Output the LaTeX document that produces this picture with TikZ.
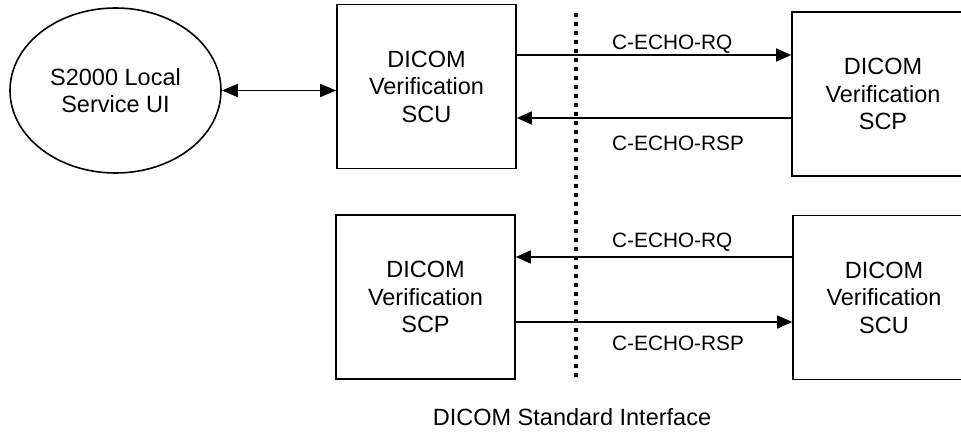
\documentclass[tikz,border=0pt]{standalone}
\usepackage{fontspec}
\setmainfont{Liberation Sans}
\usetikzlibrary{arrows.meta,shapes.geometric}
\tikzset{
  box/.style={draw,line width=1.6pt,minimum width=179pt,minimum height=164pt,inner sep=0pt,align=center,font=\fontsize{23.5}{27.5}\selectfont},
  oval/.style={draw,ellipse,line width=1.6pt,minimum width=211pt,minimum height=165pt,inner sep=0pt,align=center,font=\fontsize{23.5}{27}\selectfont},
  msg/.style={line width=1.6pt,-{Triangle[length=15pt,width=13pt]}},
  lbl/.style={anchor=base west,inner sep=0pt,font=\fontsize{20.8}{25}\selectfont},
}
\begin{document}
\begin{tikzpicture}[x=1pt,y=-1pt]
                \path[use as bounding box] (0,0) rectangle (961,431);
                \clip (0,0) rectangle (961,431);
                \node[oval] (ui) at (115.5, 90.5) {S2000 Local\\Service UI};
                \node[box] (scu) at (426.5, 86.5) {DICOM\\Verification\\SCU};
                \node[box,minimum width=182pt] (scp) at (883, 94) {DICOM\\Verification\\SCP};
                \node[box] (scp2) at (425.5, 297) {DICOM\\Verification\\SCP};
                \node[box,minimum width=182pt] (scu2) at (884, 297.5) {DICOM\\Verification\\SCU};
                \coordinate (l1) at (0, 55);
                \coordinate (l2) at (0, 118);
                \coordinate (l3) at (0, 257);
                \coordinate (l4) at (0, 322);
                \coordinate (d1) at (576, 13);
                \coordinate (d2) at (576, 380);
                \node[lbl] (rq1) at (612, 49) {C-ECHO-RQ};
                \node[lbl] (rsp1) at (612, 150) {C-ECHO-RSP};
                \node[lbl] (rq2) at (612, 247) {C-ECHO-RQ};
                \node[lbl] (rsp2) at (612, 350.5) {C-ECHO-RSP};
                \node[anchor=base,inner sep=0pt,font=\fontsize{23.5}{28}\selectfont] (sif) at (572, 425) {DICOM Standard Interface};
                \draw[line width=4pt,dash pattern=on 4pt off 5pt] (d1) to (d2);
                \draw[line width=1.6pt,{Triangle[length=16pt,width=13pt]}-{Triangle[length=16pt,width=13pt]}] (ui.east) to (scu.west |- ui.east);
                \draw[msg] (scu.east |- l1) to (scp.west |- l1);
                \draw[msg] (scp.west |- l2) to (scu.east |- l2);
                \draw[msg] (scu2.west |- l3) to (scp2.east |- l3);
                \draw[msg] (scp2.east |- l4) to (scu2.west |- l4);
\end{tikzpicture}
\end{document}
